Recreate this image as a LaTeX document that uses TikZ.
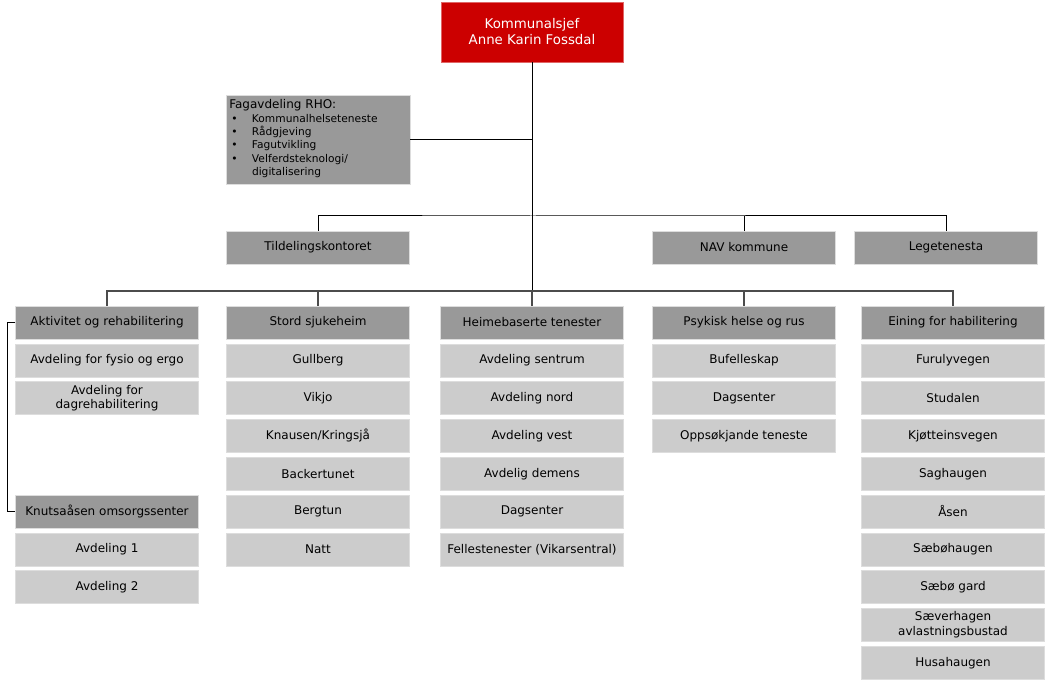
\documentclass[tikz,border=0pt]{standalone}
\usepackage{fontspec}
\setmainfont{DejaVu Sans}
\usetikzlibrary{positioning,calc}

\definecolor{chiefred}{HTML}{CC0000}
\definecolor{headgray}{HTML}{999999}
\definecolor{unitgray}{HTML}{CCCCCC}
\definecolor{edgegray}{HTML}{DDDDDD}

\begin{document}
\begin{tikzpicture}[x=0.75pt,y=-0.75pt]

        % Setup the styles for the boxes
        \tikzset{unit box/.style={draw=edgegray,
                                  line width=0.4pt,
                                  fill=unitgray,
                                  minimum width=137pt,
                                  minimum height=24.75pt,
                                  inner sep=1pt,
                                  align=center,
                                  font=\fontsize{9}{11}\selectfont},
                 head box/.style={unit box, fill=headgray},
                 link/.style={draw=black, line width=0.75pt},
                 main link/.style={draw=black!70, line width=1.1pt}}
        \useasboundingbox (0,0) rectangle (1047,680);

        % Top of the chart
        \node[head box, fill=chiefred, draw=chiefred!60, text=white,
              minimum width=136.5pt, minimum height=45pt,
              font=\fontsize{10}{12}\selectfont] at (532, 32)   (chief)  {Kommunalsjef\\Anne Karin Fossdal};
        \node[head box, minimum width=138pt, minimum height=66.75pt,
              text width=133pt, align=left, inner xsep=2pt] at (318, 139.5)   (rho)
            {Fagavdeling RHO:\\[0.5pt]
             {\fontsize{8}{10}\selectfont
              \begin{tabular}{@{}p{17pt}@{}l@{}}
              \hspace*{1.5pt}\textbullet & Kommunalhelseteneste\\
              \hspace*{1.5pt}\textbullet & Rådgjeving\\
              \hspace*{1.5pt}\textbullet & Fagutvikling\\
              \hspace*{1.5pt}\textbullet & Velferdsteknologi/\\
                          & digitalisering
              \end{tabular}}};
        \node[head box] at (318, 247.5)   (tild)   {Tildelingskontoret};
        \node[head box] at (744, 247.5)   (nav)    {NAV kommune};
        \node[head box] at (946, 247.5)   (lege)   {Legetenesta};

        % Column heads
        \node[head box] at (107, 322.5)   (akt)    {Aktivitet og rehabilitering};
        \node[head box] at (318, 322.5)   (stord)  {Stord sjukeheim};
        \node[head box] at (532, 322.5)   (heim)   {Heimebaserte tenester};
        \node[head box] at (744, 322.5)   (psyk)   {Psykisk helse og rus};
        \node[head box] at (953, 322.5)   (hab)    {Eining for habilitering};

        % Aktivitet og rehabilitering
        \node[unit box] at (107, 360.3)   (akt1)   {Avdeling for fysio og ergo};
        \node[unit box] at (107, 398.1)   (akt2)   {Avdeling for\\dagrehabilitering};
        \node[head box] at (107, 511.5)   (knut)   {Knutsaåsen omsorgssenter};
        \node[unit box] at (107, 549.3)   (knut1)  {Avdeling 1};
        \node[unit box] at (107, 587.1)   (knut2)  {Avdeling 2};

        % Stord sjukeheim
        \node[unit box] at (318, 360.3)   (sto1)   {Gullberg};
        \node[unit box] at (318, 398.1)   (sto2)   {Vikjo};
        \node[unit box] at (318, 435.9)   (sto3)   {Knausen/Kringsjå};
        \node[unit box] at (318, 473.7)   (sto4)   {Backertunet};
        \node[unit box] at (318, 511.5)   (sto5)   {Bergtun};
        \node[unit box] at (318, 549.3)   (sto6)   {Natt};

        % Heimebaserte tenester
        \node[unit box] at (532, 360.3)   (hei1)   {Avdeling sentrum};
        \node[unit box] at (532, 398.1)   (hei2)   {Avdeling nord};
        \node[unit box] at (532, 435.9)   (hei3)   {Avdeling vest};
        \node[unit box] at (532, 473.7)   (hei4)   {Avdelig demens};
        \node[unit box] at (532, 511.5)   (hei5)   {Dagsenter};
        \node[unit box] at (532, 549.3)   (hei6)   {Fellestenester (Vikarsentral)};

        % Psykisk helse og rus
        \node[unit box] at (744, 360.3)   (psy1)   {Bufelleskap};
        \node[unit box] at (744, 398.1)   (psy2)   {Dagsenter};
        \node[unit box] at (744, 435.9)   (psy3)   {Oppsøkjande teneste};

        % Eining for habilitering
        \node[unit box] at (953, 360.3)   (hab1)   {Furulyvegen};
        \node[unit box] at (953, 398.1)   (hab2)   {Studalen};
        \node[unit box] at (953, 435.9)   (hab3)   {Kjøtteinsvegen};
        \node[unit box] at (953, 473.7)   (hab4)   {Saghaugen};
        \node[unit box] at (953, 511.5)   (hab5)   {Åsen};
        \node[unit box] at (953, 549.3)   (hab6)   {Sæbøhaugen};
        \node[unit box] at (953, 587.1)   (hab7)   {Sæbø gard};
        \node[unit box] at (953, 624.9)   (hab8)   {Sæverhagen\\avlastningsbustad};
        \node[unit box] at (953, 662.7)   (hab9)   {Husahaugen};

        % Junctions on the trunk
        \coordinate (jrho)  at (532, 139.5);
        \coordinate (jstab) at (532, 216);
        \coordinate (jcol)  at (532, 291);
        \coordinate (jside) at (7, 322.5);

        % Connect the boxes
        \draw[link] (chief) -- (jcol);
        \draw[link] (rho) -- (jrho);
        \draw[link] (tild.north) |- (jstab) -| (lege.north);
        \draw[link] (nav.north) -- (nav.north |- jstab);
        \draw[main link] (akt.north) |- (jcol) -| (hab.north);
        \draw[main link] (stord.north) -- (stord.north |- jcol);
        \draw[main link] (heim.north) -- (jcol);
        \draw[main link] (psyk.north) -- (psyk.north |- jcol);
        \draw[link] (akt.west) -- (jside) |- (knut.west);
    \end{tikzpicture}
\end{document}
